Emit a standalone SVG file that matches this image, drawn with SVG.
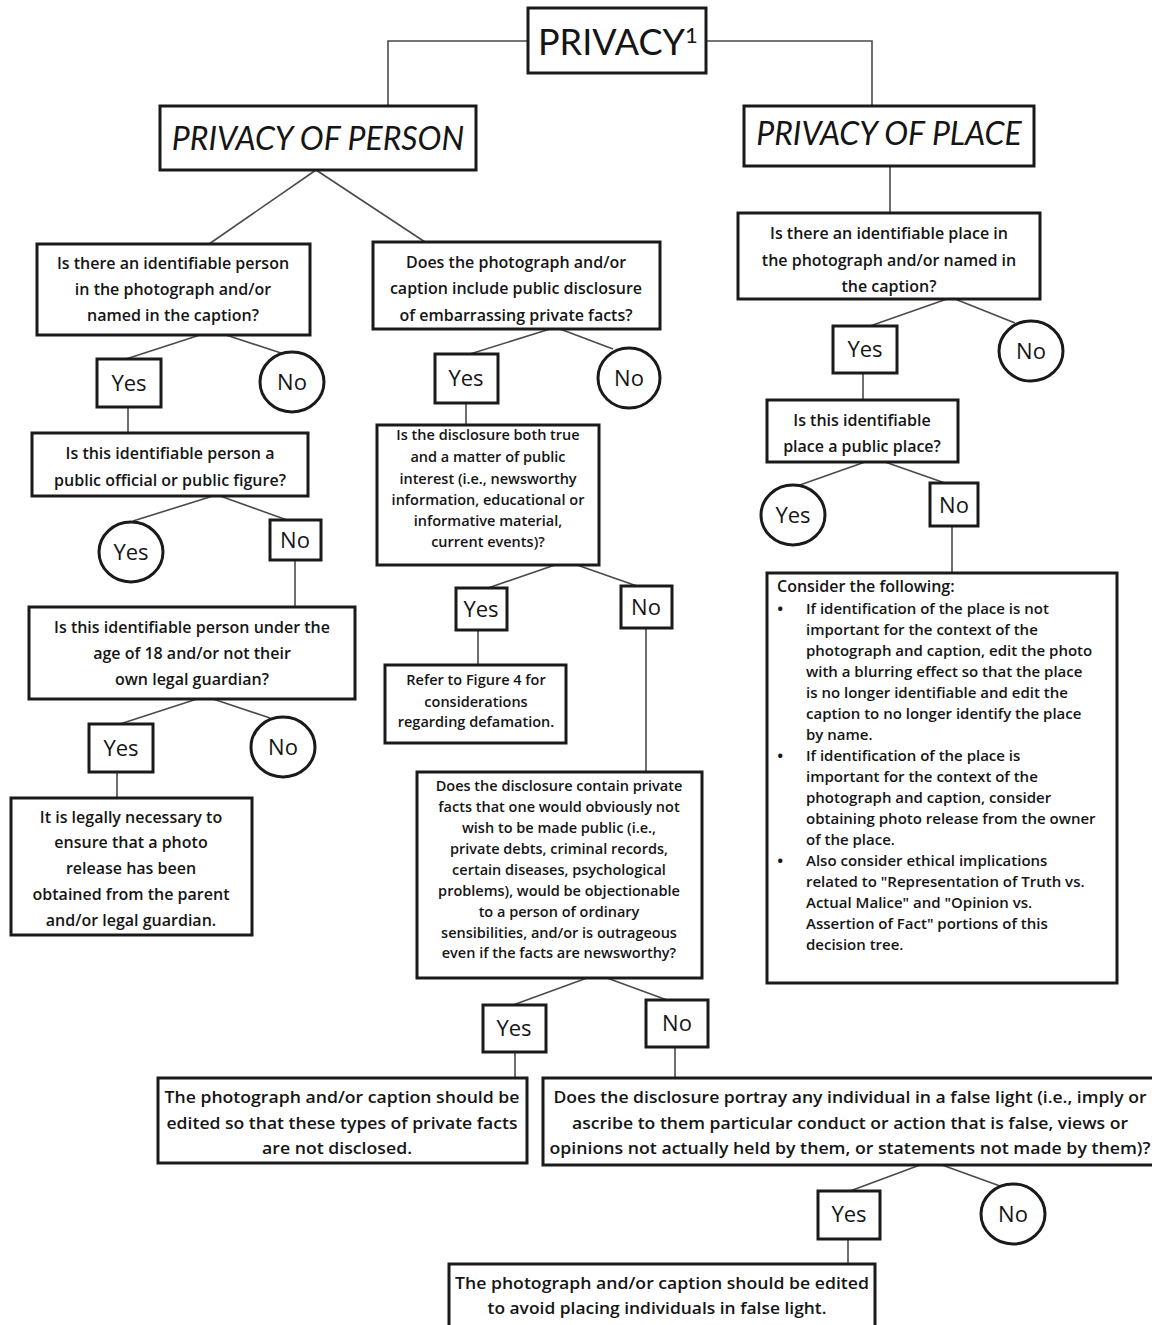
<svg xmlns="http://www.w3.org/2000/svg" width="1152" height="1325" viewBox="0 0 1152 1325">
<style>
.bg{fill:#fff}
.box{fill:#fff;stroke:#1a1a1a;stroke-width:3}
.ln{fill:none;stroke:#4a4a4a;stroke-width:1.6}
text{font-family:"Open Sans","Noto Sans","DejaVu Sans",sans-serif;fill:#151515;font-weight:600}
.c{text-anchor:middle}
.q{font-size:16px}
.s{font-size:14.5px}
.k{font-size:15px}
.yn{font-size:22px;text-anchor:middle;font-weight:500}
.h{font-family:Lato,"Open Sans",sans-serif;font-size:32px;font-style:italic;text-anchor:middle;font-weight:400}
.r{font-family:Lato,"Open Sans",sans-serif;font-size:36px;font-weight:400}
.n{font-size:17px;text-anchor:middle}
.b{font-size:17px}
</style>
<rect class="bg" x="0" y="0" width="1152" height="1325"/>

<g id="connectors">
<path class="ln" d="M528,41 H388 V106"/>
<path class="ln" d="M706,41 H872 V106"/>
<path class="ln" d="M316,170 L209,244"/>
<path class="ln" d="M316,170 L425,242"/>
<path class="ln" d="M890,166 V213"/>
<path class="ln" d="M200,335 L126,359"/>
<path class="ln" d="M226,335 L281,353"/>
<path class="ln" d="M128,407 V433"/>
<path class="ln" d="M213,496 L133,521"/>
<path class="ln" d="M220,496 L287,520"/>
<path class="ln" d="M295,560 V607"/>
<path class="ln" d="M197,699 L120,724"/>
<path class="ln" d="M213,699 L270,718"/>
<path class="ln" d="M117,772 V798"/>
<path class="ln" d="M550,329 L470,354"/>
<path class="ln" d="M560,329 L613,349"/>
<path class="ln" d="M466,403 V425"/>
<path class="ln" d="M555,565 L488,588"/>
<path class="ln" d="M577,565 L637,586"/>
<path class="ln" d="M478,630 V665"/>
<path class="ln" d="M646,628 V772"/>
<path class="ln" d="M587,978 L513,1005"/>
<path class="ln" d="M607,978 L667,1000"/>
<path class="ln" d="M515,1052 V1078"/>
<path class="ln" d="M675,1047 V1078"/>
<path class="ln" d="M920,1165 L850,1191"/>
<path class="ln" d="M942,1165 L1000,1186"/>
<path class="ln" d="M848,1239 V1264"/>
<path class="ln" d="M947,299 L870,326"/>
<path class="ln" d="M955,299 L1015,323"/>
<path class="ln" d="M863,373 V400"/>
<path class="ln" d="M865,462 L797,486"/>
<path class="ln" d="M885,462 L945,483"/>
<path class="ln" d="M952,526 V573"/>
</g>

<g id="root">
<rect class="box" x="528" y="8" width="178" height="65"/>
<text class="r" x="538" y="55">PRIVACY<tspan font-size="22" dy="-12">1</tspan></text>
</g>

<g id="privacy-person">
<rect class="box" x="160" y="106" width="316" height="64"/>
<text class="h" x="318" y="150">PRIVACY OF PERSON</text>
</g>

<g id="privacy-place">
<rect class="box" x="744" y="106" width="290" height="60"/>
<text class="h" x="889" y="145">PRIVACY OF PLACE</text>
</g>

<g id="q-person">
<rect class="box" x="37" y="244" width="273" height="91"/>
<text class="q c" x="173" y="269">Is there an identifiable person</text>
<text class="q c" x="173" y="295">in the photograph and/or</text>
<text class="q c" x="173" y="321">named in the caption?</text>
</g>
<g id="q-person-yes">
<rect class="box" x="97" y="359" width="64" height="48"/>
<text class="yn" x="129" y="391">Yes</text>
</g>
<g id="q-person-no">
<ellipse class="box" cx="292" cy="382" rx="32" ry="30"/>
<text class="yn" x="292" y="390">No</text>
</g>

<g id="q-public-figure">
<rect class="box" x="32" y="433" width="276" height="63"/>
<text class="q c" x="170" y="459">Is this identifiable person a</text>
<text class="q c" x="170" y="486">public official or public figure?</text>
</g>
<g id="q-public-figure-yes">
<ellipse class="box" cx="131" cy="552" rx="32" ry="30"/>
<text class="yn" x="131" y="560">Yes</text>
</g>
<g id="q-public-figure-no">
<rect class="box" x="270" y="520" width="51" height="40"/>
<text class="yn" x="295" y="548">No</text>
</g>

<g id="q-minor">
<rect class="box" x="29" y="607" width="326" height="92"/>
<text class="q c" x="192" y="633">Is this identifiable person under the</text>
<text class="q c" x="192" y="659">age of 18 and/or not their</text>
<text class="q c" x="192" y="685">own legal guardian?</text>
</g>
<g id="q-minor-yes">
<rect class="box" x="89" y="724" width="64" height="48"/>
<text class="yn" x="121" y="756">Yes</text>
</g>
<g id="q-minor-no">
<ellipse class="box" cx="283" cy="747" rx="32" ry="30"/>
<text class="yn" x="283" y="755">No</text>
</g>

<g id="r-release">
<rect class="box" x="11" y="798" width="241" height="137"/>
<text class="q c" x="131" y="823">It is legally necessary to</text>
<text class="q c" x="131" y="848">ensure that a photo</text>
<text class="q c" x="131" y="874">release has been</text>
<text class="q c" x="131" y="900">obtained from the parent</text>
<text class="q c" x="131" y="926">and/or legal guardian.</text>
</g>

<g id="q-disclosure">
<rect class="box" x="373" y="242" width="287" height="87"/>
<text class="q c" x="516" y="268">Does the photograph and/or</text>
<text class="q c" x="516" y="294">caption include public disclosure</text>
<text class="q c" x="516" y="321">of embarrassing private facts?</text>
</g>
<g id="q-disclosure-yes">
<rect class="box" x="435" y="354" width="63" height="49"/>
<text class="yn" x="466" y="386">Yes</text>
</g>
<g id="q-disclosure-no">
<ellipse class="box" cx="629" cy="378" rx="31" ry="30"/>
<text class="yn" x="629" y="386">No</text>
</g>

<g id="q-true-public">
<rect class="box" x="377" y="425" width="222" height="140"/>
<text class="s c" x="488" y="440">Is the disclosure both true</text>
<text class="s c" x="488" y="462">and a matter of public</text>
<text class="s c" x="488" y="484">interest (i.e., newsworthy</text>
<text class="s c" x="488" y="505">information, educational or</text>
<text class="s c" x="488" y="526">informative material,</text>
<text class="s c" x="488" y="547">current events)?</text>
</g>
<g id="q-true-public-yes">
<rect class="box" x="456" y="588" width="51" height="42"/>
<text class="yn" x="481" y="617">Yes</text>
</g>
<g id="q-true-public-no">
<rect class="box" x="621" y="586" width="51" height="42"/>
<text class="yn" x="646" y="615">No</text>
</g>

<g id="r-defamation">
<rect class="box" x="385" y="665" width="181" height="78"/>
<text class="s c" x="476" y="685">Refer to Figure 4 for</text>
<text class="s c" x="476" y="707">considerations</text>
<text class="s c" x="476" y="727">regarding defamation.</text>
</g>

<g id="q-private-facts">
<rect class="box" x="417" y="772" width="285" height="206"/>
<text class="s c" x="559" y="791">Does the disclosure contain private</text>
<text class="s c" x="559" y="812">facts that one would obviously not</text>
<text class="s c" x="559" y="833">wish to be made public (i.e.,</text>
<text class="s c" x="559" y="854">private debts, criminal records,</text>
<text class="s c" x="559" y="875">certain diseases, psychological</text>
<text class="s c" x="559" y="896">problems), would be objectionable</text>
<text class="s c" x="559" y="917">to a person of ordinary</text>
<text class="s c" x="559" y="938">sensibilities, and/or is outrageous</text>
<text class="s c" x="559" y="958">even if the facts are newsworthy?</text>
</g>
<g id="q-private-facts-yes">
<rect class="box" x="483" y="1005" width="63" height="47"/>
<text class="yn" x="514" y="1036">Yes</text>
</g>
<g id="q-private-facts-no">
<rect class="box" x="646" y="1000" width="62" height="47"/>
<text class="yn" x="677" y="1031">No</text>
</g>

<g id="r-edit-private">
<rect class="box" x="158" y="1078" width="369" height="85"/>
<text class="n" x="342" y="1103" textLength="355" lengthAdjust="spacingAndGlyphs">The photograph and/or caption should be</text>
<text class="n" x="342" y="1129" textLength="351" lengthAdjust="spacingAndGlyphs">edited so that these types of private facts</text>
<text class="n" x="337" y="1154" textLength="150" lengthAdjust="spacingAndGlyphs">are not disclosed.</text>
</g>

<g id="q-false-light">
<rect class="box" x="543" y="1078" width="620" height="87"/>
<text class="n" x="850" y="1103" textLength="593" lengthAdjust="spacingAndGlyphs">Does the disclosure portray any individual in a false light (i.e., imply or</text>
<text class="n" x="850" y="1129" textLength="556" lengthAdjust="spacingAndGlyphs">ascribe to them particular conduct or action that is false, views or</text>
<text class="n" x="850" y="1154" textLength="601" lengthAdjust="spacingAndGlyphs">opinions not actually held by them, or statements not made by them)?</text>
</g>
<g id="q-false-light-yes">
<rect class="box" x="818" y="1191" width="62" height="48"/>
<text class="yn" x="849" y="1222">Yes</text>
</g>
<g id="q-false-light-no">
<ellipse class="box" cx="1013" cy="1214" rx="32" ry="30"/>
<text class="yn" x="1013" y="1222">No</text>
</g>

<g id="r-false-light">
<rect class="box" x="449" y="1264" width="426" height="70"/>
<text class="n" x="662" y="1289" textLength="414" lengthAdjust="spacingAndGlyphs">The photograph and/or caption should be edited</text>
<text class="n" x="657" y="1314" textLength="339" lengthAdjust="spacingAndGlyphs">to avoid placing individuals in false light.</text>
</g>

<g id="q-place">
<rect class="box" x="738" y="213" width="302" height="86"/>
<text class="q c" x="889" y="239">Is there an identifiable place in</text>
<text class="q c" x="889" y="266">the photograph and/or named in</text>
<text class="q c" x="889" y="292">the caption?</text>
</g>
<g id="q-place-yes">
<rect class="box" x="833" y="326" width="64" height="47"/>
<text class="yn" x="865" y="357">Yes</text>
</g>
<g id="q-place-no">
<ellipse class="box" cx="1031" cy="351" rx="32" ry="30"/>
<text class="yn" x="1031" y="359">No</text>
</g>

<g id="q-public-place">
<rect class="box" x="767" y="400" width="191" height="62"/>
<text class="q c" x="862" y="426">Is this identifiable</text>
<text class="q c" x="862" y="452">place a public place?</text>
</g>
<g id="q-public-place-yes">
<ellipse class="box" cx="793" cy="515" rx="32" ry="30"/>
<text class="yn" x="793" y="523">Yes</text>
</g>
<g id="q-public-place-no">
<rect class="box" x="930" y="483" width="48" height="43"/>
<text class="yn" x="954" y="513">No</text>
</g>

<g id="r-consider">
<rect class="box" x="767" y="573" width="350" height="410"/>
<text x="777" y="592" font-size="16">Consider the following:</text>
<g class="k">
<text class="b" x="777" y="615">•</text>
<text x="806" y="614">If identification of the place is not</text>
<text x="806" y="635">important for the context of the</text>
<text x="806" y="656">photograph and caption, edit the photo</text>
<text x="806" y="677">with a blurring effect so that the place</text>
<text x="806" y="698">is no longer identifiable and edit the</text>
<text x="806" y="719">caption to no longer identify the place</text>
<text x="806" y="740">by name.</text>
<text class="b" x="777" y="762">•</text>
<text x="806" y="761">If identification of the place is</text>
<text x="806" y="782">important for the context of the</text>
<text x="806" y="803">photograph and caption, consider</text>
<text x="806" y="824">obtaining photo release from the owner</text>
<text x="806" y="845">of the place.</text>
<text class="b" x="777" y="867">•</text>
<text x="806" y="866">Also consider ethical implications</text>
<text x="806" y="887">related to "Representation of Truth vs.</text>
<text x="806" y="908">Actual Malice" and "Opinion vs.</text>
<text x="806" y="929">Assertion of Fact" portions of this</text>
<text x="806" y="950">decision tree.</text>
</g>
</g>
</svg>
